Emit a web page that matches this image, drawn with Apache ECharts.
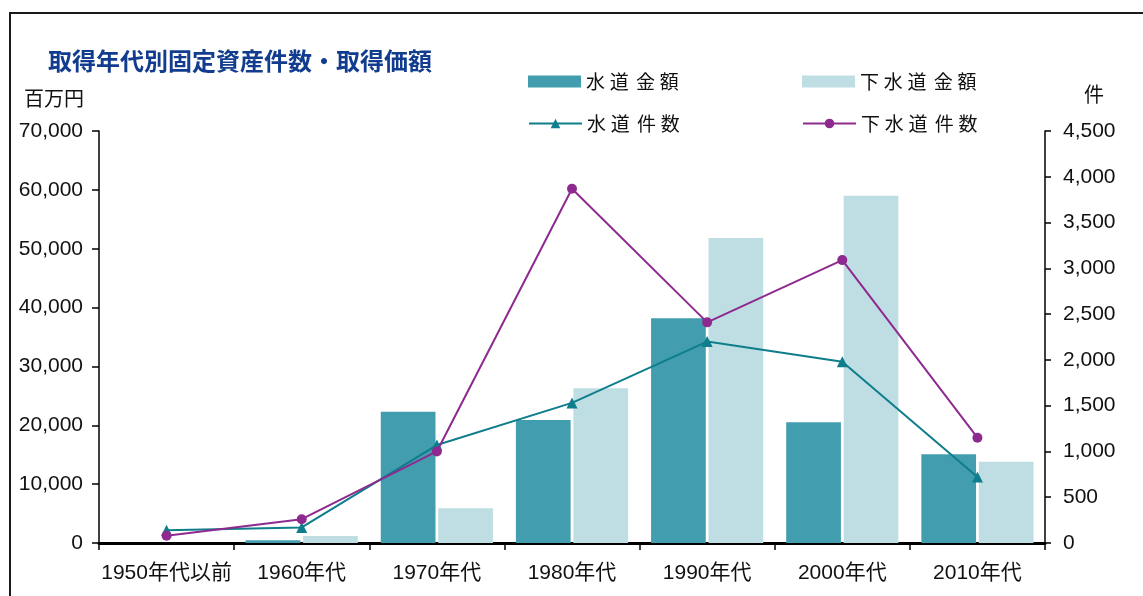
<!DOCTYPE html>
<html lang="ja">
<head>
<meta charset="utf-8">
<title>取得年代別固定資産件数・取得価額</title>
<script src="https://cdn.jsdelivr.net/npm/echarts@6/dist/echarts.min.js"></script>
<style>
  html, body { margin: 0; padding: 0; background: #fff; }
  #chart { width: 1143px; height: 596px; }
</style>
</head>
<body>
<div id="chart"></div>
<script>
// Acquisition decade categories
const decades = ['1950年代以前', '1960年代', '1970年代', '1980年代', '1990年代', '2000年代', '2010年代'];

// Acquisition amounts (million yen)
const waterAmount = [0, 450, 22300, 20900, 38200, 20500, 15100];
const sewerAmount = [0, 1200, 5900, 26300, 51800, 59000, 13800];

// Number of assets (件)
const waterCount = [140, 170, 1070, 1530, 2200, 1980, 720];
const sewerCount = [80, 260, 1000, 3870, 2410, 3090, 1150];

// Series names shown in the legend
const seriesNames = ['水道 金額', '下水道 金額', '水道 件数', '下水道 件数'];

const NUM_FONT = '"Liberation Sans", Arial, "Noto Sans CJK JP", sans-serif';
const JP_FONT = '"Noto Sans CJK JP", "Noto Sans", sans-serif';

const colors = {
  waterBar: '#429EAE',
  sewerBar: '#BFDEE3',
  waterLine: '#0E7D8C',
  sewerLine: '#8E2A8F'
};

const fmt = v => Number(v).toLocaleString('en-US');

// Spread legend characters a little apart, with a slightly wider word gap
const spaced = name => name.split(' ')
  .map(w => Array.from(w).join('\u2005'))
  .join('\u2005\u200A\u200A');

function legendAt(name, left, top, icon) {
  const l = {
    data: [name],
    left: left,
    top: top,
    itemWidth: 53,
    itemHeight: 12,
    formatter: spaced,
    textStyle: { fontFamily: JP_FONT, fontSize: 19, color: '#111' },
    selectedMode: false
  };
  if (icon) l.icon = icon;
  return l;
}

const chart = echarts.init(document.getElementById('chart'), null, { renderer: 'canvas' });

chart.setOption({
  animation: false,
  backgroundColor: '#fff',
  title: {
    text: '取得年代別固定資産件数・取得価額',
    left: 43,
    top: 44,
    textStyle: { fontFamily: JP_FONT, fontSize: 24, fontWeight: 'bold', color: '#123C8E' }
  },
  legend: [
    legendAt(seriesNames[0], 523, 67, 'rect'),
    legendAt(seriesNames[1], 797, 67, 'rect'),
    legendAt(seriesNames[2], 523, 109),
    legendAt(seriesNames[3], 797, 109)
  ],
  graphic: [
    {
      type: 'rect',
      shape: { x: 10, y: 13, width: 1300, height: 800 },
      style: { fill: 'none', stroke: '#1a1a1a', lineWidth: 2 },
      silent: true
    },
    {
      type: 'text',
      x: 54, y: 98,
      style: { text: '百万円', fontFamily: JP_FONT, fontSize: 20, fill: '#111', align: 'center', verticalAlign: 'middle' }
    },
    {
      type: 'text',
      x: 1094, y: 94,
      style: { text: '件', fontFamily: JP_FONT, fontSize: 20, fill: '#111', align: 'center', verticalAlign: 'middle' }
    }
  ],
  grid: { left: 99, right: 98, top: 131, bottom: 53, containLabel: false },
  xAxis: {
    type: 'category',
    data: decades,
    axisLine: { lineStyle: { color: '#000', width: 3 } },
    axisTick: { show: true, length: 7, lineStyle: { color: '#000', width: 1.5 } },
    axisLabel: { fontFamily: NUM_FONT, fontSize: 21, color: '#111', margin: 20, interval: 0 }
  },
  yAxis: [
    {
      type: 'value',
      min: 0, max: 70000, interval: 10000,
      axisLine: { show: true, lineStyle: { color: '#000', width: 1.5 } },
      axisTick: { show: true, length: 7, lineStyle: { color: '#000', width: 1.5 } },
      splitLine: { show: false },
      axisLabel: { fontFamily: NUM_FONT, fontSize: 21, color: '#111', margin: 16, formatter: fmt }
    },
    {
      type: 'value',
      min: 0, max: 4500, interval: 500,
      position: 'right',
      axisLine: { show: true, lineStyle: { color: '#000', width: 1.5 } },
      axisTick: { show: true, length: 6, lineStyle: { color: '#000', width: 1.5 } },
      splitLine: { show: false },
      axisLabel: { fontFamily: NUM_FONT, fontSize: 21, color: '#111', margin: 18, formatter: fmt }
    }
  ],
  series: [
    {
      name: seriesNames[0],
      type: 'bar',
      yAxisIndex: 0,
      data: waterAmount,
      barCategoryGap: '17%',
      barGap: '5%',
      itemStyle: { color: colors.waterBar },
      z: 1
    },
    {
      name: seriesNames[1],
      type: 'bar',
      yAxisIndex: 0,
      data: sewerAmount,
      barCategoryGap: '17%',
      barGap: '5%',
      itemStyle: { color: colors.sewerBar },
      z: 1
    },
    {
      name: seriesNames[2],
      type: 'line',
      yAxisIndex: 1,
      data: waterCount,
      symbol: 'triangle',
      symbolSize: 11,
      lineStyle: { color: colors.waterLine, width: 2 },
      itemStyle: { color: colors.waterLine },
      z: 3
    },
    {
      name: seriesNames[3],
      type: 'line',
      yAxisIndex: 1,
      data: sewerCount,
      symbol: 'circle',
      symbolSize: 10,
      lineStyle: { color: colors.sewerLine, width: 2 },
      itemStyle: { color: colors.sewerLine },
      z: 4
    }
  ]
});
</script>
</body>
</html>
